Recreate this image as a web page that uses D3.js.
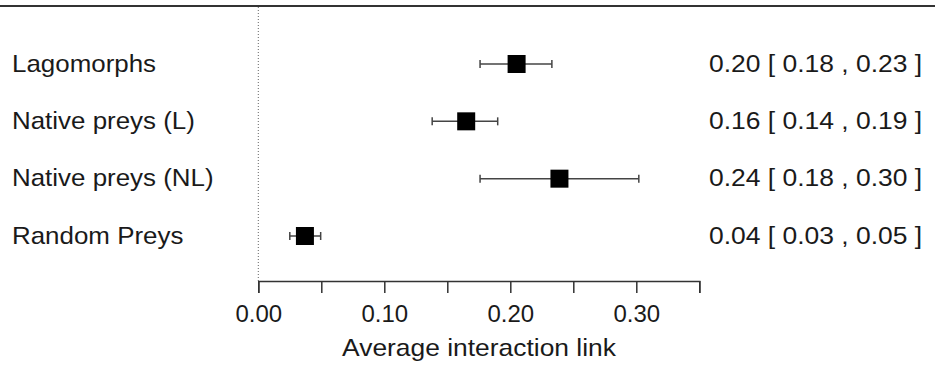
<!DOCTYPE html>
<html>
<head>
<meta charset="utf-8">
<script src="https://cdn.jsdelivr.net/npm/d3@7"></script>
<style>
  body { margin: 0; background: #fff; }
  svg text { font-family: "Liberation Sans", Arial, sans-serif; fill: #1a1a1a; }
</style>
</head>
<body>
<div id="chart"></div>
<script>
const groups = ["Lagomorphs", "Native preys (L)", "Native preys (NL)", "Random Preys"];
const estimate = [0.205, 0.165, 0.239, 0.037];
const lower = [0.176, 0.138, 0.176, 0.025];
const upper = [0.233, 0.190, 0.302, 0.0495];
const estLabels = ["0.20 [ 0.18 , 0.23 ]", "0.16 [ 0.14 , 0.19 ]", "0.24 [ 0.18 , 0.30 ]", "0.04 [ 0.03 , 0.05 ]"];
const tickValues = [0, 0.05, 0.10, 0.15, 0.20, 0.25, 0.30, 0.35];
const tickLabels = ["0.00", "", "0.10", "", "0.20", "", "0.30", ""];

const data = groups.map((g, i) => ({ g, est: estimate[i], lo: lower[i], hi: upper[i], lab: estLabels[i] }));

const width = 949, height = 375;
const svg = d3.select("#chart").append("svg").attr("width", width).attr("height", height);

const x = d3.scaleLinear().domain([0, 0.35]).range([258.3, 699.3]);
const y = d3.scalePoint().domain(groups).range([64, 236]);
const axisY = 281;

// top rule
svg.append("line").attr("x1", 0).attr("x2", 935).attr("y1", 6).attr("y2", 6)
  .attr("stroke", "#333").attr("stroke-width", 2);

// reference line at zero
svg.append("line").attr("x1", x(0)).attr("x2", x(0)).attr("y1", 7).attr("y2", axisY)
  .attr("stroke", "#666").attr("stroke-width", 1).attr("stroke-dasharray", "1,2");

// x axis
const axis = svg.append("g").attr("transform", `translate(0,${axisY})`)
  .call(d3.axisBottom(x).tickValues(tickValues).tickSize(12).tickPadding(12)
    .tickFormat((d, i) => tickLabels[i]));
axis.select(".domain").attr("stroke", "#333").attr("stroke-width", 1.5);
axis.selectAll(".tick line").attr("stroke", "#333").attr("stroke-width", 1.5);
axis.selectAll(".tick text").attr("font-size", 24).attr("fill", "#1a1a1a")
  .style("font-family", "'Liberation Sans', Arial, sans-serif");

svg.append("text").attr("transform", `translate(479,356) scale(1.1,1)`)
  .attr("text-anchor", "middle").attr("font-size", 24).text("Average interaction link");

const rows = svg.selectAll(".row").data(data).enter().append("g").attr("class", "row");

// CI lines
rows.append("line").attr("x1", d => x(d.lo)).attr("x2", d => x(d.hi))
  .attr("y1", d => y(d.g)).attr("y2", d => y(d.g))
  .attr("stroke", "#444").attr("stroke-width", 1.5);
rows.selectAll(".cap").data(d => [d.lo, d.hi].map(v => ({ v, g: d.g }))).enter().append("line")
  .attr("x1", c => x(c.v)).attr("x2", c => x(c.v))
  .attr("y1", c => y(c.g) - 4).attr("y2", c => y(c.g) + 4)
  .attr("stroke", "#444").attr("stroke-width", 1.5);

// squares
rows.append("rect").attr("x", d => x(d.est) - 9).attr("y", d => y(d.g) - 9)
  .attr("width", 18).attr("height", 18).attr("fill", "#000");

// labels
rows.append("text").attr("transform", d => `translate(12,${y(d.g) + 7.5}) scale(1.08,1)`)
  .attr("font-size", 24).text(d => d.g);
rows.append("text").attr("transform", d => `translate(709,${y(d.g) + 7.5}) scale(1.08,1)`)
  .attr("font-size", 24.5).text(d => d.lab);
</script>
</body>
</html>
